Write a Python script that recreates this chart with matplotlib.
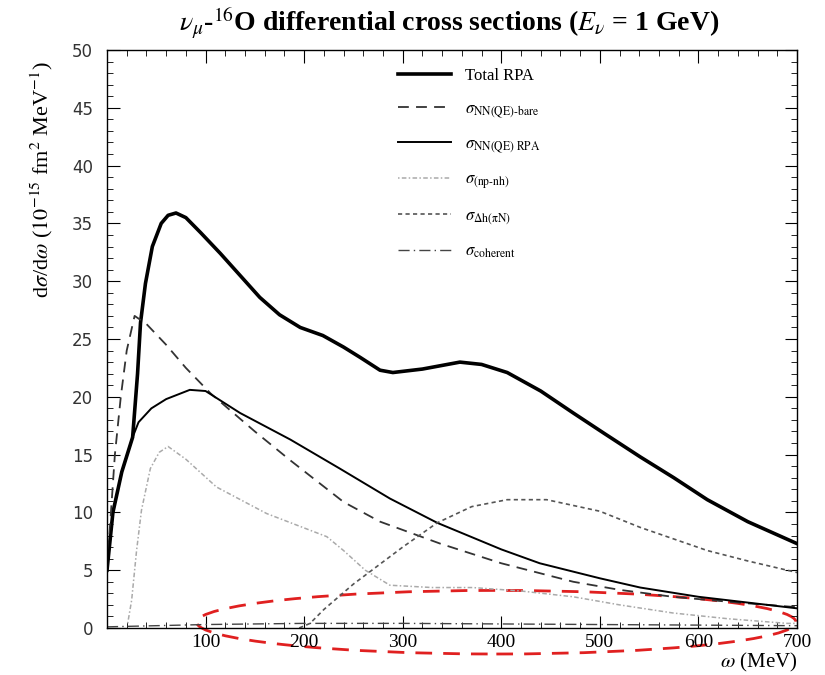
import matplotlib.pyplot as plt
from matplotlib.patches import Ellipse

# energy transfer omega (MeV) and d(sigma)/d(omega) (10^-15 fm^2 MeV^-1)
w_total = [0, 6, 15, 26, 31, 34, 39, 46, 55, 62, 70, 80, 95, 115, 135, 155, 175, 196, 219, 240, 257, 277, 290, 320, 358, 380, 406, 440, 473, 505, 541, 575, 609, 650, 700]
total_rpa = [5, 10, 13.5, 16.5, 22, 26.4, 29.8, 33, 35, 35.7, 35.9, 35.5, 34.2, 32.4, 30.5, 28.6, 27.1, 26, 25.3, 24.3, 23.4, 22.3, 22.1, 22.4, 23, 22.8, 22.1, 20.5, 18.6, 16.8, 14.8, 13.0, 11.1, 9.2, 7.3]

w_bare = [0, 8, 14, 20, 28, 40, 60, 80, 105, 150, 186, 240, 277, 338, 400, 473, 520, 574, 640, 700]
nn_bare = [5, 15, 20, 24, 27, 26.3, 24.5, 22.5, 20.3, 17, 14.5, 10.9, 9.2, 7.3, 5.6, 4.0, 3.3, 2.7, 2.2, 1.8]

w_rpa = [0, 6, 15, 26, 32, 45, 60, 84, 100, 135, 186, 236, 287, 335, 400, 439, 500, 541, 600, 650, 700]
nn_rpa = [5, 10, 13.5, 16.5, 17.8, 19, 19.8, 20.6, 20.5, 18.6, 16.3, 13.8, 11.2, 9.1, 6.8, 5.6, 4.3, 3.5, 2.7, 2.2, 1.7]

w_npnh = [21, 25, 30, 35, 44, 53, 62, 80, 111, 162, 223, 240, 262, 287, 330, 371, 420, 473, 520, 574, 630, 690, 700]
np_nh = [0.4, 2.4, 6.7, 10.2, 13.8, 15.2, 15.7, 14.6, 12.2, 9.9, 7.9, 6.7, 5.0, 3.7, 3.5, 3.5, 3.2, 2.7, 2.0, 1.3, 0.8, 0.4, 0.4]

w_delta = [195, 206, 220, 250, 300, 335, 370, 406, 446, 500, 541, 609, 650, 700]
delta_h = [0, 0.4, 1.6, 3.8, 7.0, 9.1, 10.5, 11.1, 11.1, 10.1, 8.7, 6.7, 5.8, 4.8]

w_coh = [0, 50, 100, 150, 200, 300, 400, 500, 600, 700]
coherent = [0.1, 0.2, 0.3, 0.35, 0.4, 0.4, 0.35, 0.3, 0.25, 0.2]

plt.rcParams['font.family'] = 'Liberation Serif'
plt.rcParams['mathtext.fontset'] = 'stix'

fig = plt.figure(figsize=(8.25, 6.75), dpi=100)
ax = fig.add_axes([107/825, 47/675, 690/825, 578/675])

ax.plot(w_total, total_rpa, color='black', lw=2.6, label='Total RPA')
ax.plot(w_bare, nn_bare, color='#333333', lw=1.3, ls=(0, (6, 4)), label=r'$\sigma_{\mathrm{NN(QE)\text{-}bare}}$')
ax.plot(w_rpa, nn_rpa, color='black', lw=1.4, label=r'$\sigma_{\mathrm{NN(QE)\ RPA}}$')
ax.plot(w_npnh, np_nh, color='#aaaaaa', lw=1.1, ls=(0, (1, 1.5, 3, 1.5)), label=r'$\sigma_{\mathrm{(np\text{-}nh)}}$')
ax.plot(w_delta, delta_h, color='#555555', lw=1.2, ls=(0, (2.5, 2)), label=r'$\sigma_{\mathrm{\Delta h(\pi N)}}$')
ax.plot(w_coh, coherent, color='#444444', lw=1.0, ls=(0, (8, 3, 1, 3)), label=r'$\sigma_{\mathrm{coherent}}$')

ax.set_xlim(0, 700)
ax.set_ylim(0, 50)
ax.set_xticks(range(100, 701, 100))
ax.set_yticks(range(0, 51, 5))
ax.set_xticks(range(0, 701, 20), minor=True)
ax.set_yticks(range(0, 51, 1), minor=True)
ax.tick_params(which='both', direction='in', top=True, right=True)
ax.tick_params(which='major', length=9)
ax.tick_params(which='minor', length=4)
ax.tick_params(axis='x', labelsize=14, pad=4)
ax.tick_params(axis='y', labelsize=12, pad=10)
for lab in ax.get_yticklabels():
    lab.set_family('DejaVu Sans')
    lab.set_color('#333333')
for s in ax.spines.values():
    s.set_linewidth(1.0)

leg = ax.legend(loc='upper left', bbox_to_anchor=(0.40, 0.995), frameon=False,
                fontsize=12, labelspacing=1.0, handlelength=3.2)

fig.text(0.545, 0.965, r'$\nu_\mu$-$^{16}$O differential cross sections ($E_\nu$ = 1 GeV)',
         ha='center', va='center', fontsize=20, fontweight='bold')
fig.text(0.05, 1 - 180/675, r'd$\sigma$/d$\omega$ ($10^{-15}$ fm$^2$ MeV$^{-1}$)',
         rotation=90, ha='center', va='center', fontsize=16)
fig.text(0.966, 0.018, r'$\omega$ (MeV)', ha='right', va='center', fontsize=15)

# highlight the region around the coherent contribution
ax.add_patch(Ellipse((395, 0.5), 608, 5.5, fill=False, edgecolor='#e02020',
                     lw=2.0, ls=(0, (6, 4)), clip_on=False))

fig.savefig('out.png', dpi=100)
